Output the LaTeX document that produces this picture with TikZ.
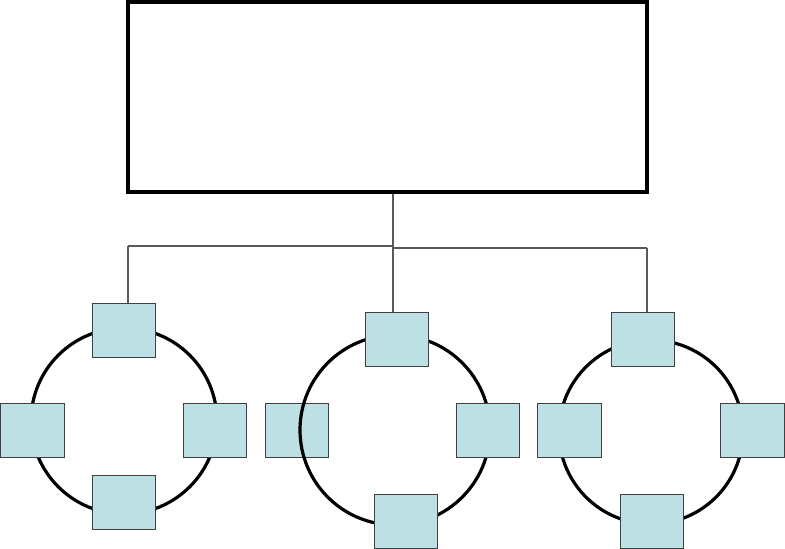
\documentclass[tikz,border=0pt]{standalone}
\begin{document}
\begin{tikzpicture}[x=0.75pt,y=-0.75pt,
  topbox/.style={draw=black,line width=2.4pt,fill=white,inner sep=0pt,minimum width=389.25pt,minimum height=142.5pt},
  pc/.style={draw=black!75,line width=0.7pt,fill=nodeblue,inner sep=0pt,minimum width=47.5pt,minimum height=40.5pt},
  ring/.style={draw=black,line width=2.4pt,circle,inner sep=0pt},
  wire/.style={draw=black!65,line width=0.8pt}]
\definecolor{nodeblue}{RGB}{188,224,228}
\useasboundingbox (0,0) rectangle (785,549);
% top box
\node[topbox] (top) at (387.5,97) {};
% junctions
\coordinate (jL) at (128,246);
\coordinate (jM) at (393,246);
\coordinate (jM2) at (393,248);
\coordinate (jR) at (647,248);
% cluster 2 left square below circle
\node[pc] (b2) at (297,430) {};
% rings
\node[ring,minimum size=139.5pt] (r1) at (124,421) {};
\node[ring,minimum size=142.5pt] (r2) at (395,430) {};
\node[ring,minimum size=138pt] (r3) at (651,432) {};
% cluster 1
\node[pc] (a1) at (124,330) {};
\node[pc] (a2) at (32.5,430) {};
\node[pc] (a3) at (215,430) {};
\node[pc] (a4) at (124,502) {};
% cluster 2
\node[pc] (b1) at (397,339) {};
\node[pc] (b3) at (488,430) {};
\node[pc] (b4) at (406,521) {};
% cluster 3
\node[pc] (c1) at (643,339) {};
\node[pc] (c2) at (569.5,430) {};
\node[pc] (c3) at (752.5,430) {};
\node[pc] (c4) at (652,521) {};
% connectors
\draw[wire] (top.south -| jM) -- (b1.north -| jM);
\draw[wire] (jL) -- (jM);
\draw[wire] (jM2) -- (jR);
\draw[wire] (jL) -- (a1.north -| jL);
\draw[wire] (jR) -- (c1.north -| jR);
\end{tikzpicture}
\end{document}
